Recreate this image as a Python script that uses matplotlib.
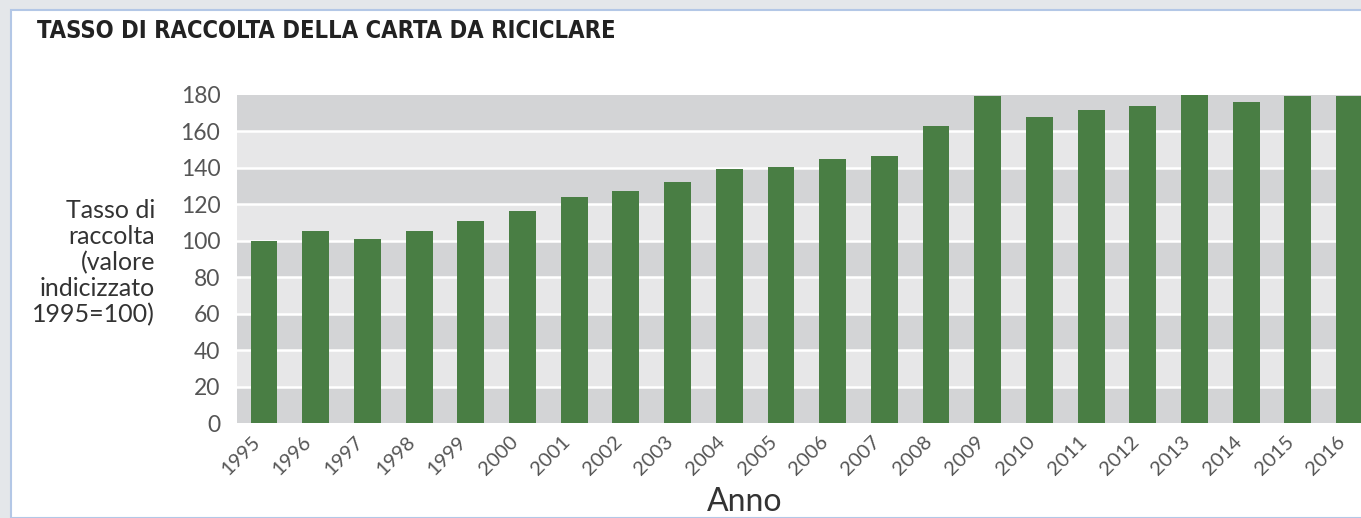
import matplotlib.pyplot as plt
import matplotlib.transforms as mtransforms
from matplotlib.patches import Rectangle

# dati (indice 1995=100)
anni = [str(a) for a in range(1995, 2017)]
tasso = [100, 105, 101, 105, 111, 116, 124, 127, 132, 139, 140.5, 145,
         146.5, 163, 179.5, 168, 171.5, 174, 180, 176, 179.5, 179.5]
fasce = list(range(0, 180, 20))

titolo = "TASSO DI RACCOLTA DELLA CARTA DA RICICLARE"
etichetta_y = "Tasso di\nraccolta\n(valore\nindicizzato\n1995=100)"
etichetta_x = "Anno"

verde = "#497e44"
grigio_scuro = "#d3d4d6"
grigio_chiaro = "#e7e7e8"

plt.rcParams["font.family"] = ["Lato", "DejaVu Sans"]

fig = plt.figure(figsize=(13.61, 5.18), dpi=100)
fig.patch.set_facecolor("#e4e7ea")
# pannello bianco con bordo azzurro
fig.add_artist(Rectangle((11 / 1361, 0), 1, 1 - 10 / 518, transform=fig.transFigure,
                         facecolor="white", edgecolor="#b3c7e6", linewidth=1.5, zorder=0))

ax = fig.add_axes([237 / 1361, 95 / 518, 1124 / 1361, 328.3 / 518])
ax.set_facecolor("none")

# fasce alternate dello sfondo
for i, y0 in enumerate(fasce):
    colore = grigio_scuro if i % 2 == 0 else grigio_chiaro
    ax.axhspan(y0, y0 + 20, color=colore, linewidth=0, zorder=0)
for y0 in fasce[1:]:
    ax.axhline(y0, color="white", linewidth=1.8, zorder=1)

x = list(range(len(anni)))
ax.bar(x, tasso, width=0.52, color=verde, zorder=2)

ax.set_xlim(-0.522, 21.22)
ax.set_ylim(0, 180)
ax.set_yticks(range(0, 181, 20))
ax.set_xticks(x)
ax.set_xticklabels(anni, rotation=45, ha="right", va="top", rotation_mode="anchor")
ax.tick_params(axis="y", length=0, pad=12, labelsize=16.5, labelcolor="#555555")
ax.tick_params(axis="x", length=0, pad=7, labelsize=14.5, labelcolor="#555555")
sposta = mtransforms.ScaledTranslation(-13 / 100, 0, fig.dpi_scale_trans)
for lab in ax.get_xticklabels():
    lab.set_transform(lab.get_transform() + sposta)
for s in ax.spines.values():
    s.set_visible(False)

fig.text(37 / 1361, 1 - 31 / 518, titolo, fontsize=17, fontweight="bold",
         fontstretch="condensed", color="#222222", va="center", ha="left",
         family=["DejaVu Sans", "Liberation Sans"])
fig.text(155 / 1361, 1 - 263 / 518, etichetta_y, fontsize=18, color="#333333",
         ha="right", va="center", multialignment="right", linespacing=1.15)
fig.text(745 / 1361, 1 - 502 / 518, etichetta_x, fontsize=23, color="#333333",
         ha="center", va="center")

fig.savefig("out.png", dpi=100, facecolor=fig.get_facecolor())
